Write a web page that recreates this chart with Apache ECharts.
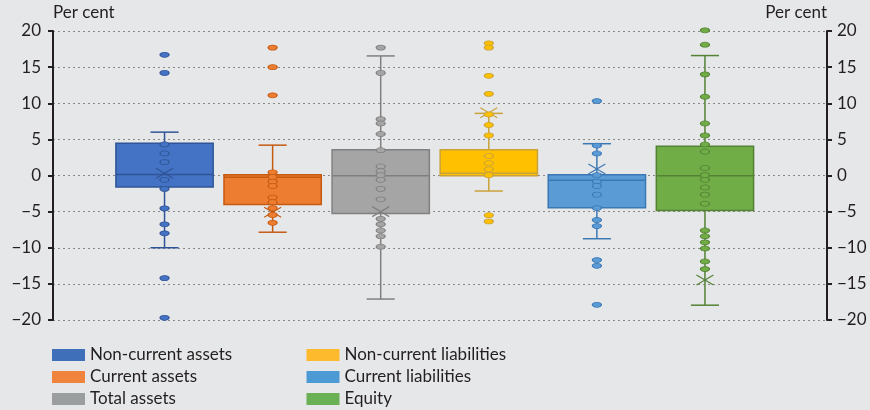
<!DOCTYPE html>
<html>
<head>
<meta charset="utf-8">
<script src="https://cdn.jsdelivr.net/npm/echarts@6/dist/echarts.min.js"></script>
<style>
  html, body { margin: 0; padding: 0; background: #e6e7e9; }
  #chart { width: 870px; height: 410px; }
</style>
</head>
<body>
<div id="chart"></div>
<script>
// Balance-sheet components, per cent
const seriesNames = ['Non-current assets', 'Current assets', 'Total assets',
  'Non-current liabilities', 'Current liabilities', 'Equity'];

// Box-and-whisker statistics, one entry per series
const whiskerLow  = [-10.0, -7.85, -17.1, -2.15, -8.75, -17.95];
const quartile1   = [-1.6, -4.0, -5.25, -0.05, -4.45, -4.85];
const medianVal   = [0.15, -0.25, -0.05, 0.3, -0.65, -0.05];
const quartile3   = [4.45, 0.1, 3.55, 3.55, 0.1, 4.05];
const whiskerHigh = [6.0, 4.2, 16.55, 8.6, 4.4, 16.6];
const meanVal     = [0.3, -5.1, -5.0, 8.7, 0.9, -14.45];

// Individual observations
const pointsNonCurrentAssets = [16.7, 14.2, 4.3, 3.05, 1.85, -0.6, -1.85, -4.55, -6.75, -8.0, -14.2, -19.7];
const pointsCurrentAssets = [17.7, 15.0, 11.1, 0.45, -0.2, -0.85, -1.45, -3.05, -3.7, -4.5, -5.45, -6.55];
const pointsTotalAssets = [17.7, 14.2, 7.8, 7.2, 5.75, 3.5, 1.25, 0.6, 0.05, -0.6, -1.85, -3.3, -6.0, -6.75, -7.6, -8.4, -9.85];
const pointsNonCurrentLiabilities = [18.3, 17.7, 13.8, 11.3, 8.45, 7.0, 5.55, 2.7, 1.7, 0.85, 0.05, -5.5, -6.35];
const pointsCurrentLiabilities = [10.3, 4.15, 3.05, 0.05, -0.85, -1.45, -2.65, -4.5, -6.15, -7.0, -11.7, -12.5, -17.9];
const pointsEquity = [20.1, 18.1, 14.0, 10.9, 7.2, 5.55, 4.3, 3.3, 1.05, 0.05, -0.6, -1.65, -2.65, -3.9, -7.6, -8.4, -9.25, -10.1, -11.9, -12.95];

const pointSets = [pointsNonCurrentAssets, pointsCurrentAssets, pointsTotalAssets,
  pointsNonCurrentLiabilities, pointsCurrentLiabilities, pointsEquity];

const fillColors = ['#4472c4', '#ed7d31', '#a5a5a5', '#ffc000', '#5b9bd5', '#70ad47'];
const edgeColors = ['#2f5597', '#c55a11', '#808080', '#c9a23a', '#3a78b5', '#548235'];
const legendColors = ['#3f6fb9', '#f0843c', '#9a9e9e', '#fdba2c', '#4c9ad3', '#6ab054'];

const FONT = 'Lato';
const TEXT = '#231f20';

function fmt(v) {
  return v < 0 ? '\u2212' + Math.abs(v) : String(v);
}

function renderBox(params, api) {
  const i = api.value(0);
  const lo = api.coord([i, api.value(1)]);
  const q1 = api.coord([i, api.value(2)]);
  const md = api.coord([i, api.value(3)]);
  const q3 = api.coord([i, api.value(4)]);
  const hi = api.coord([i, api.value(5)]);
  const mn = api.coord([i, api.value(6)]);
  const band = api.size([1, 0])[0];
  const bw = band * 0.9;
  const cw = band * 0.26;
  const x = lo[0];
  const stroke = edgeColors[i];
  const lineStyle = { stroke: stroke, lineWidth: 1.5 };
  const mw = 8.5, mh = 5;
  return {
    type: 'group',
    children: [
      { type: 'line', shape: { x1: x, y1: hi[1], x2: x, y2: q3[1] }, style: lineStyle },
      { type: 'line', shape: { x1: x, y1: q1[1], x2: x, y2: lo[1] }, style: lineStyle },
      { type: 'line', shape: { x1: x - cw / 2, y1: hi[1], x2: x + cw / 2, y2: hi[1] }, style: lineStyle },
      { type: 'line', shape: { x1: x - cw / 2, y1: lo[1], x2: x + cw / 2, y2: lo[1] }, style: lineStyle },
      { type: 'rect', shape: { x: x - bw / 2, y: q3[1], width: bw, height: q1[1] - q3[1] },
        style: { fill: fillColors[i], stroke: stroke, lineWidth: 1.5 } },
      { type: 'line', shape: { x1: x - bw / 2, y1: md[1], x2: x + bw / 2, y2: md[1] }, style: lineStyle },
      { type: 'line', shape: { x1: x - mw, y1: mn[1] - mh, x2: x + mw, y2: mn[1] + mh },
        style: { stroke: stroke, lineWidth: 1.2 }, z2: 20 },
      { type: 'line', shape: { x1: x - mw, y1: mn[1] + mh, x2: x + mw, y2: mn[1] - mh },
        style: { stroke: stroke, lineWidth: 1.2 }, z2: 20 }
    ]
  };
}

const boxSeries = seriesNames.map((name, i) => ({
  name: name,
  type: 'custom',
  xAxisIndex: 1,
  yAxisIndex: 2,
  renderItem: renderBox,
  itemStyle: { color: legendColors[i] },
  encode: { x: 0, y: [1, 2, 3, 4, 5, 6] },
  data: [[i, whiskerLow[i], quartile1[i], medianVal[i], quartile3[i], whiskerHigh[i], meanVal[i]]],
  z: 2,
  silent: true
}));

const pointSeries = seriesNames.map((name, i) => ({
  name: name + ' points',
  type: 'scatter',
  xAxisIndex: 1,
  yAxisIndex: 2,
  clip: false,
  symbol: 'circle',
  symbolSize: [9, 5],
  itemStyle: { color: fillColors[i], borderColor: edgeColors[i], borderWidth: 1, opacity: 1 },
  data: pointSets[i].map(v => [i, v]),
  z: 3,
  silent: true
}));

const valueAxisBase = {
  type: 'value',
  min: -20,
  max: 20,
  interval: 5,
  gridIndex: 0
};

function legendBlock(left, names, colors) {
  return {
    orient: 'vertical',
    left: left,
    top: 344,
    height: 72,
    padding: 0,
    itemWidth: 33,
    itemHeight: 12,
    itemGap: 0,
    icon: 'rect',
    selectedMode: false,
    textStyle: { fontFamily: FONT, fontSize: 17, color: TEXT, lineHeight: 22 },
    data: names.map((n, k) => ({ name: n, itemStyle: { color: colors[k] } }))
  };
}

const option = {
  backgroundColor: '#e6e7e9',
  animation: false,
  textStyle: { fontFamily: FONT, color: TEXT },
  grid: [
    { left: 53, right: 43, top: 31, bottom: 90 },
    { left: 110.5, right: 111, top: 31, bottom: 90 }
  ],
  xAxis: [
    { type: 'category', gridIndex: 0, data: [''], show: false },
    { type: 'category', gridIndex: 1, data: seriesNames, show: false }
  ],
  yAxis: [
    Object.assign({}, valueAxisBase, {
      position: 'left',
      name: 'Per cent',
      nameLocation: 'end',
      nameGap: 10,
      nameTextStyle: { fontFamily: FONT, fontSize: 17, color: TEXT, align: 'left', verticalAlign: 'bottom' },
      axisLine: { show: true, lineStyle: { color: TEXT, width: 2 } },
      axisTick: { show: true, length: 5, lineStyle: { color: TEXT, width: 2 } },
      axisLabel: { fontFamily: FONT, fontSize: 17, color: TEXT, margin: 12, formatter: fmt },
      splitLine: { show: true, lineStyle: { color: '#8a8a8a', width: 1, type: [2, 3] } }
    }),
    Object.assign({}, valueAxisBase, {
      position: 'right',
      name: 'Per cent',
      nameLocation: 'end',
      nameGap: 10,
      nameTextStyle: { fontFamily: FONT, fontSize: 17, color: TEXT, align: 'right', verticalAlign: 'bottom' },
      axisLine: { show: true, lineStyle: { color: TEXT, width: 2 } },
      axisTick: { show: true, length: 5, lineStyle: { color: TEXT, width: 2 } },
      axisLabel: { fontFamily: FONT, fontSize: 17, color: TEXT, margin: 10, formatter: fmt },
      splitLine: { show: false }
    }),
    { type: 'value', gridIndex: 1, min: -20, max: 20, interval: 5, show: false }
  ],
  legend: [
    legendBlock(52, seriesNames.slice(0, 3), legendColors.slice(0, 3)),
    legendBlock(306.5, seriesNames.slice(3), legendColors.slice(3))
  ],
  series: boxSeries.concat(pointSeries).concat([
    // empty series so both value axes share the same grid
    { type: 'line', xAxisIndex: 0, yAxisIndex: 0, data: [], silent: true },
    { type: 'line', xAxisIndex: 0, yAxisIndex: 1, data: [], silent: true }
  ])
};

const chart = echarts.init(document.getElementById('chart'), null, { renderer: 'canvas' });
chart.setOption(option);
</script>
</body>
</html>
